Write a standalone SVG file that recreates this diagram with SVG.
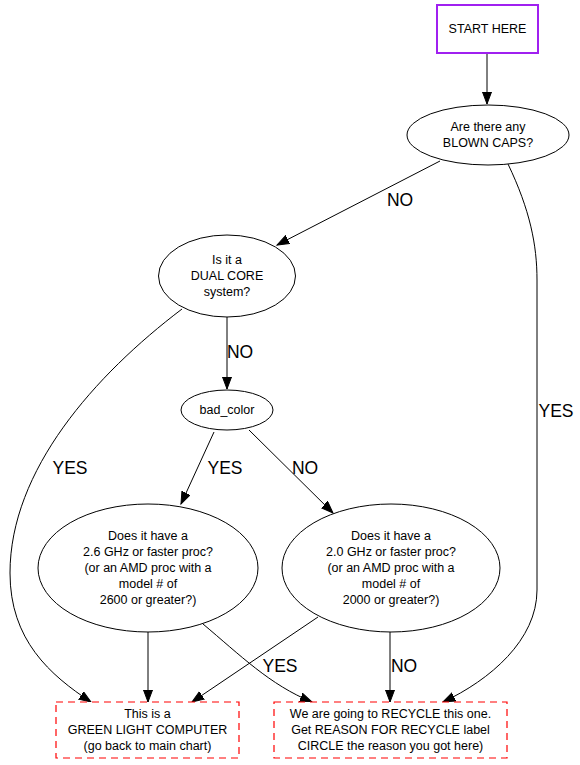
<svg xmlns="http://www.w3.org/2000/svg" width="580" height="765" viewBox="0 0 580 765">
<style>
.n{fill:#fff;stroke:#000;stroke-width:1}
.t{font-family:"Liberation Sans",Arial,sans-serif;font-size:12.5px;fill:#000;text-anchor:middle}
.l{font-family:"Liberation Sans",Arial,sans-serif;font-size:17.5px;fill:#000;text-anchor:middle}
.e{fill:none;stroke:#000;stroke-width:1;marker-end:url(#ah)}
.d{fill:#fff;stroke:#ff0000;stroke-width:1.2;stroke-dasharray:7,5}
</style>
<defs>
<marker id="ah" markerUnits="userSpaceOnUse" markerWidth="14" markerHeight="11" refX="12" refY="5" orient="auto">
<path d="M0,0.5 L12,5 L0,9.5 z" fill="#000" stroke="#000" stroke-width="1"/>
</marker>
</defs>
<rect width="580" height="765" fill="#fff"/>
<g id="edges">
<path class="e" d="M487,53 L487,104"/>
<path class="e" d="M440,161 L277,245"/>
<path class="e" d="M508,164 C530,210 537,245 537,280 L537,590 C537,640 490,680 443,702"/>
<path class="e" d="M227,317 L227,389"/>
<path class="e" d="M182,309 C95,375 10,470 10,573 C10,640 50,675 91,702"/>
<path class="e" d="M214,432 L181,504"/>
<path class="e" d="M249,430 L333,513"/>
<path class="e" d="M148,632 L148,702"/>
<path class="e" d="M203,624 C240,655 270,685 312,702"/>
<path class="e" d="M318,617 L192,702"/>
<path class="e" d="M390,632 L390,702"/>
<text class="l" x="400" y="206">NO</text>
<text class="l" x="556" y="417">YES</text>
<text class="l" x="240" y="358">NO</text>
<text class="l" x="70" y="474">YES</text>
<text class="l" x="225" y="474">YES</text>
<text class="l" x="305" y="474">NO</text>
<text class="l" x="280" y="672">YES</text>
<text class="l" x="404" y="672">NO</text>
</g>
<g id="start">
<rect x="437" y="5" width="101" height="48" fill="#fff" stroke="#a020f0" stroke-width="2"/>
<text class="t" x="487.5" y="33">START HERE</text>
</g>
<g id="blown">
<ellipse class="n" cx="488" cy="135" rx="81" ry="30"/>
<text class="t" x="488" y="131">Are there any</text>
<text class="t" x="488" y="147">BLOWN CAPS?</text>
</g>
<g id="dual">
<ellipse class="n" cx="227" cy="276" rx="68.5" ry="41"/>
<text class="t" x="227" y="264">Is it a</text>
<text class="t" x="227" y="280">DUAL CORE</text>
<text class="t" x="227" y="296">system?</text>
</g>
<g id="bad_color">
<ellipse class="n" cx="227" cy="410" rx="46" ry="20"/>
<text class="t" x="227" y="414">bad_color</text>
</g>
<g id="ghz26">
<ellipse class="n" cx="148" cy="568" rx="110" ry="64"/>
<text class="t" x="148" y="540">Does it have a</text>
<text class="t" x="148" y="556">2.6 GHz or faster proc?</text>
<text class="t" x="148" y="572">(or an AMD proc with a</text>
<text class="t" x="148" y="588">model # of</text>
<text class="t" x="148" y="604">2600 or greater?)</text>
</g>
<g id="ghz20">
<ellipse class="n" cx="391" cy="568" rx="109" ry="64"/>
<text class="t" x="391" y="540">Does it have a</text>
<text class="t" x="391" y="556">2.0 GHz or faster proc?</text>
<text class="t" x="391" y="572">(or an AMD proc with a</text>
<text class="t" x="391" y="588">model # of</text>
<text class="t" x="391" y="604">2000 or greater?)</text>
</g>
<g id="green">
<rect class="d" x="56" y="702" width="183" height="56"/>
<text class="t" x="147.5" y="718">This is a</text>
<text class="t" x="147.5" y="734">GREEN LIGHT COMPUTER</text>
<text class="t" x="147.5" y="750">(go back to main chart)</text>
</g>
<g id="recycle">
<rect class="d" x="274" y="702" width="233" height="56"/>
<text class="t" x="390.5" y="718">We are going to RECYCLE this one.</text>
<text class="t" x="390.5" y="734">Get REASON FOR RECYCLE label</text>
<text class="t" x="390.5" y="750">CIRCLE the reason you got here)</text>
</g>
</svg>
